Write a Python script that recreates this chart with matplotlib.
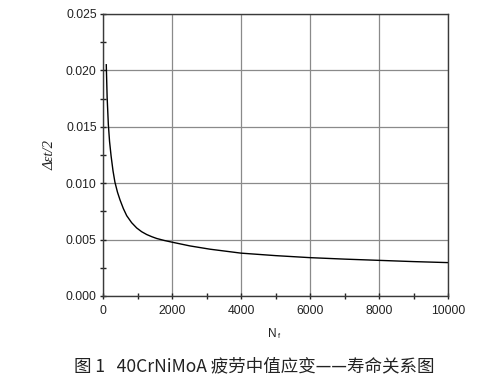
import matplotlib
matplotlib.use("Agg")
import matplotlib.pyplot as plt
from matplotlib.ticker import MultipleLocator

# Data (N_f, strain amplitude)
life_cycles = [95, 120, 155, 190, 235, 290, 345, 420, 493, 590, 687, 830, 977,
               1120, 1266, 1420, 1556, 1780, 2020, 2520, 3100, 4000, 5000, 6000,
               7000, 8000, 9000, 10000]
strain_amp = [0.0205, 0.0176, 0.0152, 0.0137, 0.0124, 0.0111, 0.0101, 0.0092,
              0.00852, 0.00775, 0.00712, 0.00650, 0.00603, 0.00570, 0.00545,
              0.00525, 0.00510, 0.00492, 0.00476, 0.00444, 0.00415, 0.00380,
              0.00358, 0.00340, 0.00327, 0.00316, 0.00305, 0.00296]

x_ticks = [0, 2000, 4000, 6000, 8000, 10000]
y_ticks = [0.000, 0.005, 0.010, 0.015, 0.020, 0.025]
x_label = "N"
x_sub = "f"
y_label = "Δεt/2"
caption = "图 1   40CrNiMoA 疲劳中值应变——寿命关系图"

plt.rcParams['font.family'] = ['Liberation Sans', 'DejaVu Sans']

fig = plt.figure(figsize=(4.95, 3.80), dpi=100)
ax = fig.add_axes([103/495, 1-296/380, 345/495, 282/380])

ax.plot(life_cycles, strain_amp, color='black', lw=1.0)
ax.set_xlim(0, 10000)
ax.set_ylim(0, 0.025)
ax.set_xticks(x_ticks)
ax.set_yticks(y_ticks)
ax.set_xticklabels([str(v) for v in x_ticks])
ax.set_yticklabels([f"{v:.3f}" for v in y_ticks])
ax.xaxis.set_minor_locator(MultipleLocator(1000))
ax.yaxis.set_minor_locator(MultipleLocator(0.0025))
ax.grid(True, which='major', color='#8a8a8a', lw=0.9)
ax.set_axisbelow(True)
for s in ax.spines.values():
    s.set_color('#3a3a3a')
    s.set_linewidth(1.0)
ax.tick_params(which='both', direction='inout', length=5, width=1.0,
               color='#222222', labelsize=8.8, labelcolor='#222222', pad=2)
ax.tick_params(axis='x', pad=4)

fig.text(50/495, 1-155/380, y_label, rotation=90, ha='center', va='center',
         fontsize=10.5, style='italic', family=['Liberation Serif', 'DejaVu Serif'],
         color='#222222')
fig.text(272/495, 1-334/380, x_label, ha='center', va='center', fontsize=8.5,
         color='#222222')
fig.text(279/495, 1-337/380, x_sub, ha='center', va='center', fontsize=5.5,
         color='#222222')
fig.text(254/495, 1-366/380, caption, ha='center', va='center', fontsize=12.6,
         family=['Noto Sans CJK SC', 'DejaVu Sans'], color='#222222')

fig.savefig("out.png", dpi=100)
